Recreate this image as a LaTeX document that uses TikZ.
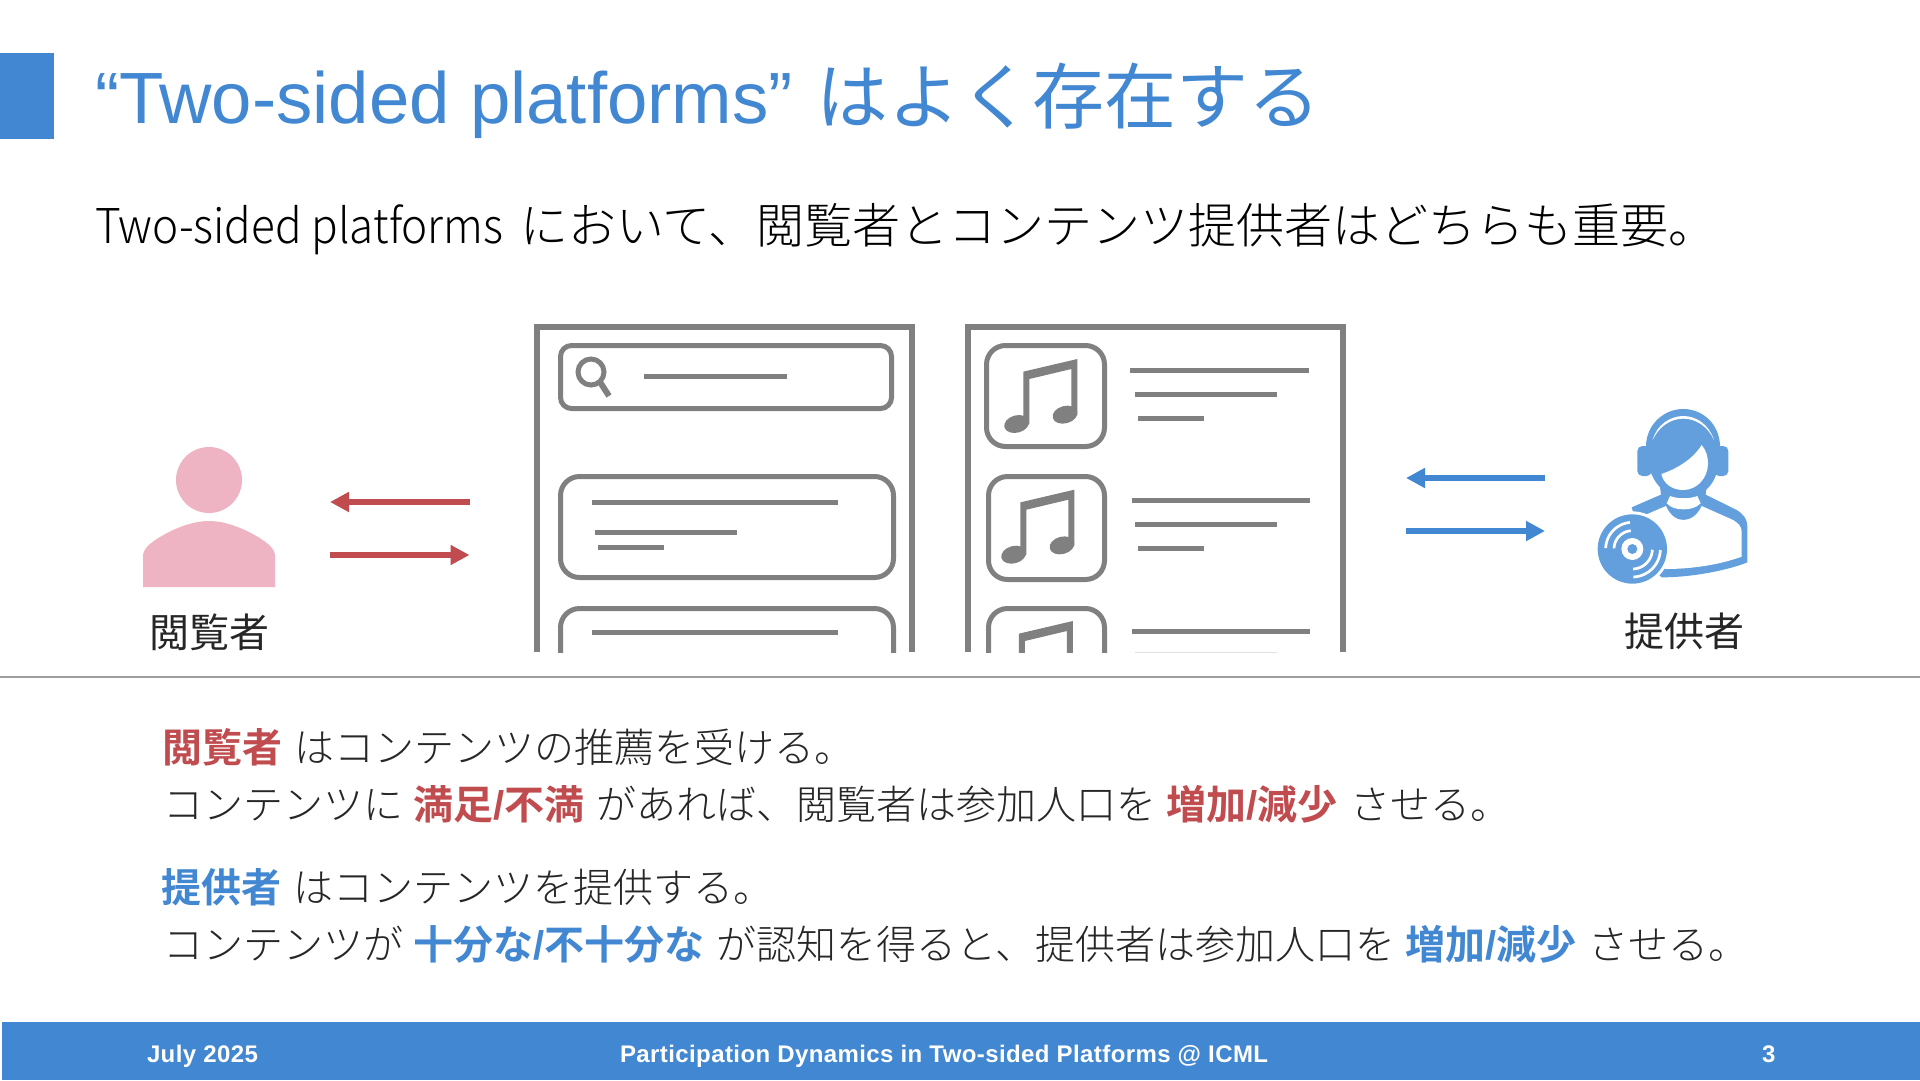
\documentclass[tikz,border=0pt]{standalone}
\usepackage{fontspec}
\usetikzlibrary{arrows.meta}
\setmainfont{Liberation Sans}
\newfontfamily\jp{Noto Sans CJK JP Light}[BoldFont={Noto Sans CJK JP Bold}]
\newfontfamily\jpreg{Noto Sans CJK JP}
\newfontfamily\subfont{Noto Sans CJK JP Light}[FakeStretch=0.917]
\newfontfamily\footfont{Liberation Sans}[LetterSpace=1.7]
\definecolor{slideblue}{HTML}{4287D1}
\definecolor{slidered}{HTML}{C04C4F}
\definecolor{iconblue}{HTML}{629FDC}
\definecolor{iconpink}{HTML}{EFB4C3}
\definecolor{wire}{HTML}{808080}
\definecolor{inktext}{HTML}{262626}
\newcommand{\fs}[1]{\fontsize{#1}{#1}\selectfont}
\newcommand{\redb}[1]{{\jp\bfseries\color{slidered}#1}}
\newcommand{\blub}[1]{{\jp\bfseries\color{slideblue}#1}}
\newcommand{\slashb}{{\rmfamily\bfseries /}}
\newcommand{\gpa}{\hspace{10pt}}
\newcommand{\gpb}{\hspace{12.5pt}}
\newcommand{\musicnote}[2]{%
  \begin{scope}[shift={(950+#1,310+#2)},scale=1/3]
    \fill[wire] (220,185)--(382,147)--(382,314)--(364,314)--(364,177)--(238,207)--(238,342)--(220,342)--cycle;
    \fill[wire,shift={(200,342)},rotate=15] (0,0) ellipse [x radius=38,y radius=26];
    \fill[wire,shift={(345,314)},rotate=15] (0,0) ellipse [x radius=38,y radius=26];
  \end{scope}}
\tikzset{
  frameline/.style={draw=wire,line width=6pt,miter limit=10},
  cardbox/.style={draw=wire,line width=5pt},
  wirebar/.style={draw=wire,line width=5pt},
  flowred/.style={draw=slidered,line width=6pt,-{Triangle[length=19pt,width=19pt]}},
  flowblue/.style={draw=slideblue,line width=6pt,-{Triangle[length=19pt,width=19pt]}},
  txt/.style={anchor=base west,inner sep=0pt,outer sep=0pt,text=inktext},
  lbl/.style={anchor=base,inner sep=0pt,outer sep=0pt,text=black!85},
  foot/.style={anchor=base west,inner sep=0pt,outer sep=0pt,text=white,font=\footfont\bfseries\fs{24}},
}
\begin{document}
\begin{tikzpicture}[x=1pt,y=-1pt]
\useasboundingbox (0,0) rectangle (1920,1080);
\fill[white] (0,0) rectangle (1920,1080);
% header
\fill[slideblue] (0,53) rectangle (54,139);
\node[txt,text=slideblue] (title) at (95,123) {\fs{72.6}“Two-sided platforms”\hspace{24pt}{\jpreg\fs{72}はよく存在する}};
\node[txt,text=black] (subtitle) at (95,243) {\fs{48}{\subfont Two-sided platforms}\hspace{17pt}{\jp において、閲覧者とコンテンツ提供者はどちらも重要。}};
% separator and footer
\draw[draw=black!38,line width=2pt] (0,677) -- (1920,677);
\fill[slideblue] (2,1022) rectangle (1920,1080);
\node[foot] (date) at (147,1062) {July 2025};
\node[foot] (foottitle) at (620,1062) {Participation Dynamics in Two-sided Platforms @ ICML};
\node[foot] (page) at (1762,1062) {3};
% viewer
\fill[iconpink] (209,480) circle [radius=33];
\fill[iconpink] (143,587) -- (143,556) .. controls (143,549) and (150,543) .. (160,537) .. controls (175,528) and (193,521) .. (209,521) .. controls (225,521) and (243,528) .. (258,537) .. controls (268,543) and (275,549) .. (275,556) -- (275,587) -- cycle;
\node[lbl] (viewer) at (209,647) {\jpreg\fs{40}閲覧者};
% arrows
\coordinate (rt) at (469.5,502); \coordinate (lt) at (330,502);
\coordinate (rb) at (469.5,555); \coordinate (lb) at (330,555);
\draw[flowred] (rt) -- (lt);
\draw[flowred] (lb) -- (rb);
\coordinate (brt) at (1545,478); \coordinate (blt) at (1406,478);
\coordinate (brb) at (1545,531); \coordinate (blb) at (1406,531);
\draw[flowblue] (brt) -- (blt);
\draw[flowblue] (blb) -- (brb);
% left screen
\draw[frameline] (537,652) -- (537,327) -- (912,327) -- (912,652);
\draw[cardbox,rounded corners=11pt] (560.5,345.5) rectangle (891.5,408.5);
\draw[wire,line width=5pt] (591,372) circle [radius=13];
\draw[wire,line width=6pt] (600,382) -- (609,396);
\draw[wirebar] (644,376) -- (787,376);
\draw[cardbox,rounded corners=19pt] (560.5,476.5) rectangle (893.5,577.5);
\draw[wirebar] (592,502) -- (838,502);
\draw[wirebar] (595,532) -- (737,532);
\draw[wirebar] (598,547) -- (664,547);
\begin{scope}
  \clip (520,300) rectangle (1360,652);
  \draw[cardbox,rounded corners=19pt] (560.5,608.5) rectangle (893.5,720);
  \draw[wirebar] (592,632) -- (838,632);
  % right screen
  \draw[cardbox,rounded corners=19pt] (988.5,608.5) rectangle (1104.5,720);
  \musicnote{-4.5}{262}
  \draw[wirebar] (1132,631) -- (1310,631);
\end{scope}
\draw[frameline] (968,652) -- (968,327) -- (1343,327) -- (1343,652);
\draw[cardbox,rounded corners=19pt] (986.5,345.5) rectangle (1104.5,446.5);
\musicnote{0}{0}
\draw[wirebar] (1130,370) -- (1309,370);
\draw[wirebar] (1135,394) -- (1277,394);
\draw[wirebar] (1138,418) -- (1204,418);
\draw[cardbox,rounded corners=19pt] (988.5,476.5) rectangle (1104.5,579.5);
\musicnote{-3}{130.7}
\draw[wirebar] (1132,500) -- (1310,500);
\draw[wirebar] (1135,524) -- (1277,524);
\draw[wirebar] (1138,548) -- (1204,548);
\draw[draw=black!12,line width=1pt] (1135,652) -- (1277,652);
% provider icon
\begin{scope}[shift={(1590,400)},scale=1/3]
  % body
  \fill[iconblue] (125,322) -- (215,283) -- (345,283) -- (440,330) .. controls (460,342) and (472,358) .. (472,378) -- (472,487) .. controls (430,505) and (320,532) .. (215,532) -- (180,500) -- cycle;
  \fill[white] (165,345) -- (228,318) .. controls (240,347) and (260,360) .. (280,360) .. controls (300,360) and (322,347) .. (335,318) -- (425,358) .. controls (445,368) and (455,380) .. (455,395) -- (455,470) .. controls (400,490) and (320,507) .. (225,507) -- (180,450) -- cycle;
  % head outline
  \fill[iconblue] (168,140) .. controls (168,75) and (220,27) .. (280,27) .. controls (340,27) and (390,75) .. (390,140) .. controls (390,200) and (380,290) .. (280,292) .. controls (195,290) and (168,200) .. (168,140) -- cycle;
  % neck
  \fill[iconblue] (210,260) -- (350,260) -- (345,300) -- (215,300) -- cycle;
  \fill[white] (240,288) .. controls (262,297) and (300,297) .. (322,288) -- (332,310) .. controls (318,324) and (300,328) .. (280,328) .. controls (260,328) and (244,324) .. (230,310) -- cycle;
  % ear cups
  \fill[iconblue,rounded corners=5pt] (142,138) rectangle (185,228);
  \fill[iconblue,rounded corners=5pt] (372,138) rectangle (415,228);
  % head band gap
  \fill[white] (188,120) .. controls (200,75) and (240,48) .. (280,48) .. controls (320,48) and (358,75) .. (372,120) .. controls (355,82) and (320,56) .. (280,56) .. controls (240,56) and (205,82) .. (188,120) -- cycle;
  % face
  \fill[white] (335,135) .. controls (348,150) and (354,170) .. (354,190) .. controls (354,235) and (320,270) .. (280,270) .. controls (245,270) and (220,250) .. (214,222) .. controls (265,205) and (310,175) .. (335,135) -- cycle;
  % disc
  \fill[white] (127,447) circle [radius=113];
  \fill[iconblue] (127,447) circle [radius=104];
  \fill[white] (127,447) circle [radius=33];
  \fill[iconblue] (127,447) circle [radius=15];
  \draw[white,line width=2.7pt] plot[domain=95:178,samples=24] ({127+80*cos(\x)},{447-80*sin(\x)});
  \draw[white,line width=2.7pt] plot[domain=95:178,samples=24] ({127+55*cos(\x)},{447-55*sin(\x)});
  \draw[white,line width=2.7pt] plot[domain=-88:-2,samples=24] ({127+84*cos(\x)},{447-84*sin(\x)});
  \draw[white,line width=2.7pt] plot[domain=-88:-2,samples=24] ({127+60*cos(\x)},{447-60*sin(\x)});
\end{scope}
\node[lbl] (provider) at (1684,646) {\jpreg\fs{40}提供者};
% explanation
\node[txt] (l1) at (162,762) {\fs{40}\redb{閲覧者}\gpb{\jp はコンテンツの推薦を受ける。}};
\node[txt] (l2) at (163,819) {\fs{40}{\jp コンテンツに}\gpa\redb{満足\slashb 不満}\gpb{\jp があれば、閲覧者は参加人口を}\gpa\redb{増加\slashb 減少}\gpb{\jp させる。}};
\node[txt] (l3) at (161,902) {\fs{40}\blub{提供者}\gpb{\jp はコンテンツを提供する。}};
\node[txt] (l4) at (163,959) {\fs{40}{\jp コンテンツが}\gpa\blub{十分な\slashb 不十分な}\gpb{\jp が認知を得ると、提供者は参加人口を}\gpa\blub{増加\slashb 減少}\gpb{\jp させる。}};
\end{tikzpicture}
\end{document}
